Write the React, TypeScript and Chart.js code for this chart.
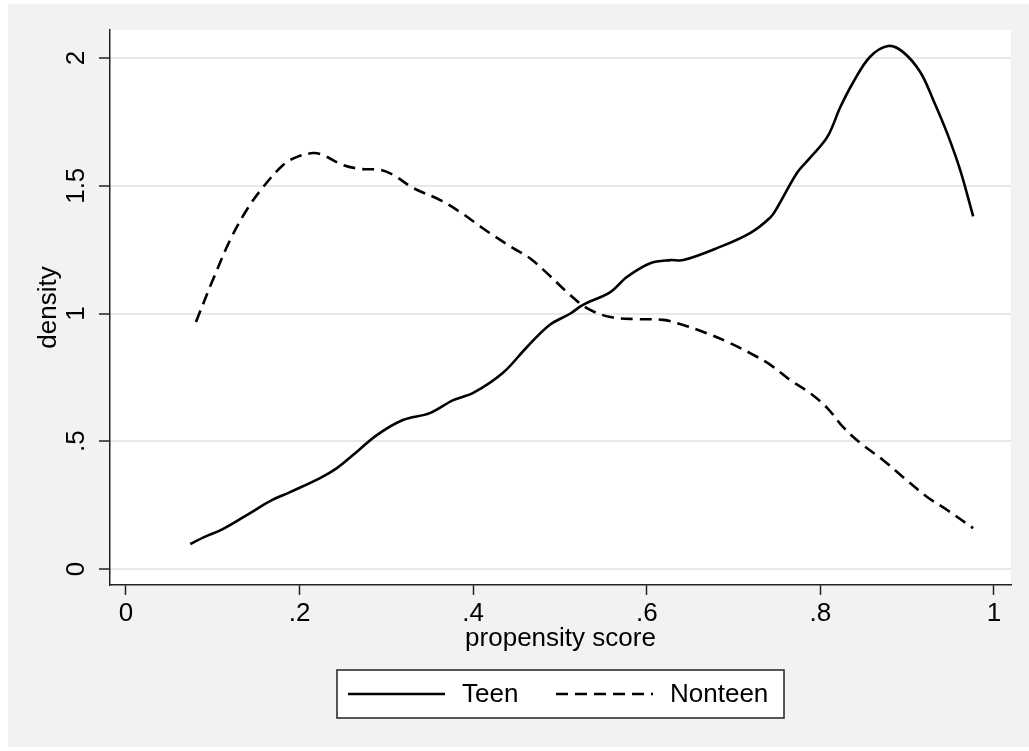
import React, { useEffect, useRef } from 'react';
import { Chart, registerables } from 'chart.js';

Chart.register(...registerables);

// ---- data ----
const teenX = [0.074, 0.09, 0.112, 0.143, 0.166, 0.189, 0.2235, 0.243, 0.2615, 0.289, 0.319, 0.35, 0.377, 0.4, 0.434, 0.462, 0.488, 0.512, 0.526, 0.558, 0.577, 0.604, 0.627, 0.642, 0.681, 0.719, 0.742, 0.75, 0.773, 0.788, 0.808, 0.823, 0.838, 0.857, 0.878, 0.895, 0.915, 0.93, 0.946, 0.961, 0.976];
const teenY = [0.098, 0.125, 0.157, 0.219, 0.266, 0.301, 0.356, 0.395, 0.446, 0.524, 0.583, 0.61, 0.661, 0.689, 0.767, 0.869, 0.955, 1.0, 1.033, 1.084, 1.143, 1.197, 1.209, 1.209, 1.256, 1.315, 1.375, 1.413, 1.55, 1.609, 1.691, 1.808, 1.906, 2.004, 2.047, 2.024, 1.945, 1.836, 1.706, 1.562, 1.38];

const nonteenX = [0.0806, 0.1, 0.12, 0.139, 0.158, 0.181, 0.197, 0.216, 0.227, 0.25, 0.27, 0.293, 0.308, 0.331, 0.362, 0.385, 0.406, 0.419, 0.446, 0.465, 0.485, 0.508, 0.531, 0.558, 0.589, 0.619, 0.642, 0.669, 0.696, 0.719, 0.742, 0.765, 0.788, 0.808, 0.826, 0.846, 0.872, 0.895, 0.923, 0.946, 0.976];
const nonteenY = [0.967, 1.131, 1.288, 1.405, 1.495, 1.581, 1.613, 1.628, 1.62, 1.581, 1.566, 1.562, 1.542, 1.491, 1.444, 1.397, 1.346, 1.315, 1.256, 1.217, 1.158, 1.084, 1.021, 0.986, 0.978, 0.975, 0.955, 0.923, 0.884, 0.845, 0.8, 0.74, 0.689, 0.63, 0.556, 0.493, 0.427, 0.36, 0.282, 0.231, 0.16];

const seriesLabels = ['Teen', 'Nonteen'];
const xTicks = [0, 0.2, 0.4, 0.6, 0.8, 1];
const xTickLabels = ['0', '.2', '.4', '.6', '.8', '1'];
const yTicks = [0, 0.5, 1, 1.5, 2];
const yTickLabels = ['0', '.5', '1', '1.5', '2'];
const xTitle = 'propensity score';
const yTitle = 'density';

const FONT = "'Liberation Sans', Arial, Helvetica, sans-serif";
const FS = 26;
const W = 1029;
const H = 751;

const backgroundPlugin = {
  id: 'stataBackground',
  beforeDraw(chart: any) {
    const { ctx, chartArea: a } = chart;
    ctx.save();
    ctx.fillStyle = '#ffffff';
    ctx.fillRect(0, 0, chart.width, chart.height);
    ctx.fillStyle = '#f2f2f2';
    ctx.fillRect(8, 4, chart.width - 8, chart.height - 8);
    ctx.fillStyle = '#ffffff';
    ctx.fillRect(a.left, a.top, a.right - a.left, a.bottom - a.top);
    ctx.restore();
  },
};

const legendPlugin = {
  id: 'stataLegend',
  afterDraw(chart: any) {
    const { ctx } = chart;
    const bx = 337, by = 670, bw = 447, bh = 48;
    const cy = by + bh / 2;
    ctx.save();
    ctx.fillStyle = '#ffffff';
    ctx.fillRect(bx, by, bw, bh);
    ctx.strokeStyle = '#222';
    ctx.lineWidth = 1.5;
    ctx.strokeRect(bx, by, bw, bh);
    const items = [
      { x0: 348, x1: 445, tx: 462 },
      { x0: 556, x1: 653, tx: 670 },
    ];
    chart.data.datasets.forEach((ds: any, i: number) => {
      const it = items[i];
      ctx.beginPath();
      ctx.setLineDash(ds.borderDash || []);
      ctx.strokeStyle = ds.borderColor;
      ctx.lineWidth = ds.borderWidth;
      ctx.moveTo(it.x0, cy);
      ctx.lineTo(it.x1, cy);
      ctx.stroke();
      ctx.setLineDash([]);
      ctx.fillStyle = '#000';
      ctx.font = `${FS}px ${FONT}`;
      ctx.textBaseline = 'middle';
      ctx.textAlign = 'left';
      ctx.fillText(ds.label, it.tx, cy + 1);
    });
    ctx.restore();
  },
};

export default function App() {
  const ref = useRef<HTMLCanvasElement | null>(null);

  useEffect(() => {
    if (!ref.current) return;
    const chart = new Chart(ref.current, {
      type: 'line',
      data: {
        datasets: [
          {
            label: seriesLabels[0],
            data: teenX.map((x, i) => ({ x, y: teenY[i] })),
            borderColor: '#000',
            borderWidth: 2.6,
            pointRadius: 0,
            tension: 0.35,
            fill: false,
          },
          {
            label: seriesLabels[1],
            data: nonteenX.map((x, i) => ({ x, y: nonteenY[i] })),
            borderColor: '#000',
            borderWidth: 2.6,
            borderDash: [12, 7],
            pointRadius: 0,
            tension: 0.35,
            fill: false,
          },
        ],
      },
      options: {
        animation: false,
        responsive: false,
        devicePixelRatio: 1,
        layout: { padding: { left: 0, top: 30, right: 18, bottom: 96 } },
        plugins: { legend: { display: false }, tooltip: { enabled: false }, title: { display: false } },
        scales: {
          x: {
            type: 'linear',
            min: -0.01843,
            max: 1.01959,
            afterBuildTicks: (s: any) => { s.ticks = xTicks.map((v) => ({ value: v })); },
            afterFit: (s: any) => { s.height = 70; },
            ticks: {
              autoSkip: false,
              maxRotation: 0,
              minRotation: 0,
              padding: 3,
              color: '#000',
              font: { size: FS, family: FONT },
              callback: (v: any) => { const i = xTicks.indexOf(Number(v)); return i >= 0 ? xTickLabels[i] : ''; },
            },
            grid: { display: true, drawOnChartArea: false, drawTicks: true, tickLength: 10, tickColor: '#222', tickWidth: 1.5 },
            border: { display: true, color: '#222', width: 1.5 },
            title: { display: true, text: xTitle, color: '#000', font: { size: FS, family: FONT }, padding: { top: 0, bottom: 1 } },
          },
          y: {
            type: 'linear',
            min: -0.0626,
            max: 2.1096,
            afterBuildTicks: (s: any) => { s.ticks = yTicks.map((v) => ({ value: v })); },
            afterFit: (s: any) => { s.width = 110; },
            ticks: {
              autoSkip: false,
              minRotation: 90,
              maxRotation: 90,
              crossAlign: 'center',
              padding: 4,
              color: '#000',
              font: { size: FS, family: FONT },
              callback: (v: any) => { const i = yTicks.indexOf(Number(v)); return i >= 0 ? yTickLabels[i] : ''; },
            },
            grid: { display: true, drawOnChartArea: true, color: '#e8e8e8', lineWidth: 2, drawTicks: true, tickLength: 11, tickColor: '#222', tickWidth: 1.5 },
            border: { display: true, color: '#222', width: 1.5 },
            title: { display: true, text: yTitle, color: '#000', font: { size: FS, family: FONT }, padding: { top: 33, bottom: 0 } },
          },
        },
      },
      plugins: [backgroundPlugin, legendPlugin],
    } as any);
    return () => chart.destroy();
  }, []);

  return (
    <div style={{ position: 'absolute', left: 0, top: 0, width: W, height: H, background: '#fff' }}>
      <canvas ref={ref} width={W} height={H} style={{ display: 'block', width: W, height: H }} />
    </div>
  );
}
